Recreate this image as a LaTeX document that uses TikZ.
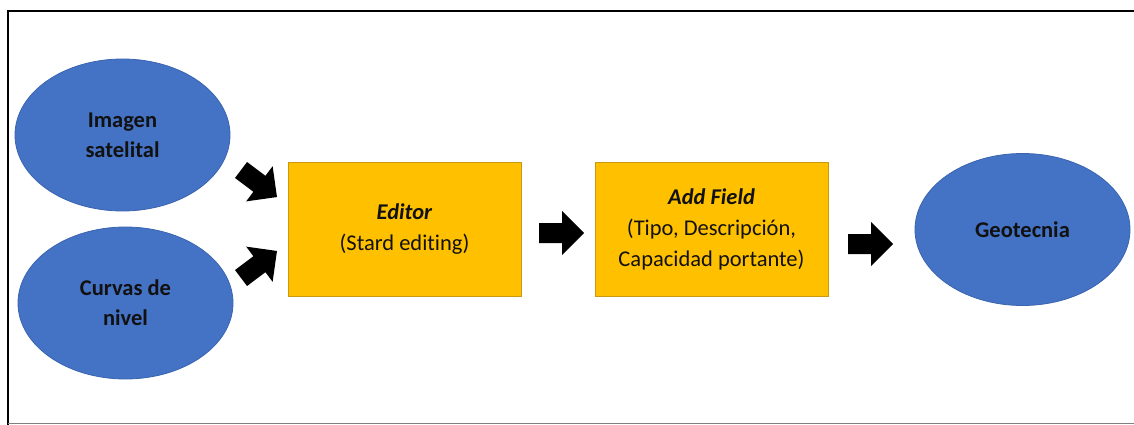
\documentclass[tikz,border=0pt]{standalone}
\usepackage{fontspec}
\setmainfont{Carlito}[Ligatures=NoCommon]
\usetikzlibrary{shapes.geometric}
\definecolor{ovalblue}{HTML}{4472C4}
\definecolor{ovaledge}{HTML}{3A64B0}
\definecolor{boxgold}{HTML}{FFC000}
\definecolor{boxedge}{HTML}{C99A10}
\definecolor{inkdark}{HTML}{111111}
\tikzset{
  oval/.style={ellipse, fill=ovalblue, draw=ovaledge, line width=0.8pt,
    minimum width=215, minimum height=152, inner sep=0pt, align=center,
    text=inkdark, font=\fontsize{22.5}{30}\selectfont\bfseries},
  stepbox/.style={rectangle, fill=boxgold, draw=boxedge, line width=0.8pt,
    minimum width=233, minimum height=134, inner sep=0pt, align=center,
    text=inkdark, font=\fontsize{22.5}{31}\selectfont},
  blockarrow/.pic={\fill[black] (-22.5,-10) -- (0.5,-10) -- (0.5,-22) -- (22.5,0)
    -- (0.5,22) -- (0.5,10) -- (-22.5,10) -- cycle;}
}
\begin{document}
\begin{tikzpicture}[x=1pt,y=-1pt]
\useasboundingbox (0,0) rectangle (1134,424);
% page frame: left and top black rules, thin grey rule at the foot
\draw[black, line width=2.6pt] (1136,11) -- (8,11) -- (8,426);
\draw[gray, line width=1pt] (8,423.5) -- (1136,423.5);

\node[oval] (img) at (122.5,135) {Imagen\\satelital};
\node[oval] (curv) at (125.5,303) {Curvas de\\nivel};
\node[stepbox] (edit) at (404.5,229) {\textbf{\itshape Editor}\\(Stard editing)};
\node[stepbox] (field) at (711.5,229) {\textbf{\itshape Add Field}\\(Tipo, Descripción,\\Capacidad portante)};
\node[oval] (geo) at (1022.5,229.5) {Geotecnia};

\pic[rotate=-37] (a1) at (259,183.5) {blockarrow};
\pic[rotate=37] (a2) at (259,264.5) {blockarrow};
\pic (a3) at (561.5,233) {blockarrow};
\pic (a4) at (870.5,244) {blockarrow};
\end{tikzpicture}
\end{document}
